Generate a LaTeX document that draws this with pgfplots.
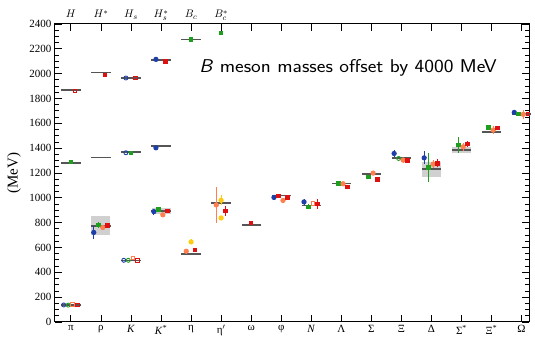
\documentclass[border=0pt]{standalone}
\usepackage{fontspec}
\setmainfont{Liberation Serif}
\usepackage{pgfplots}
\usepackage{pgfplotstable}
\pgfplotsset{compat=1.18}

\definecolor{cblue}{HTML}{1F3FA8}
\definecolor{cgreen}{HTML}{1E9E1E}
\definecolor{corange}{HTML}{FF7F4F}
\definecolor{cred}{HTML}{DD1111}
\definecolor{cyellow}{HTML}{FFCC11}
\definecolor{cexp}{HTML}{555555}
\definecolor{cbox}{HTML}{D0D0D0}

% experimental values (B mesons offset by 4000 MeV)
\pgfplotstableread{
x y
0 138
1 775
2 496
3 892
4 548
5 958
6 783
7 1019
8 939
9 1116
10 1193
11 1318
12 1232
13 1385
14 1533
15 1672
0 1279
1 1325
2 1367
3 1415
0 1869
1 2010
2 1968
3 2112
4 2275
}\expt

% resonance widths (grey boxes)
\pgfplotstableread{
x y e
1 774.5 75.5
3 895 27
12 1227 63
13 1382 24
}\boxes

\pgfplotstableread{
x y e
0.76 721 50
2.76 889 25
6.76 1003 20
7.76 967 27
10.76 1357 27
11.76 1322 52
14.76 1688 22
2.83 2115 0
2.83 1403 0
}\bluef
\pgfplotstableread{
x y
-0.24 137
1.76 497
1.83 1965
1.83 1363
}\blueo

\pgfplotstableread{
x y e
0.91 780 22
2.91 905 10
7.91 927 20
8.91 1113 15
9.91 1167 15
11.91 1245 120
12.91 1425 62
13.91 1567 20
14.91 1675 15
0 1288 8
2 1360 0
4 2274 0
5 2327 0
}\greenf
\pgfplotstableread{
x y
-0.09 136
1.91 497
10.91 1317
}\greeno

\pgfplotstableread{
x y e
1.06 761 15
3.06 863 15
3.84 570 10
4.84 943 145
7.06 979 12
9.06 1113 15
10.06 1199 15
11.06 1304 20
12.06 1271 32
13.06 1411 32
14.06 1546 35
15.06 1672 35
}\orangef
\pgfplotstableread{
x y
0.06 143
2.06 516
8.06 954
}\orangeo

\pgfplotstableread{
x y e
1.21 777 24
3.21 895 10
4.13 580 16
5.14 895 38
6 798 8
7.21 1003 8
8.21 949 40
9.21 1088 10
10.21 1150 10
11.21 1301 10
12.21 1277 32
13.21 1433 22
14.21 1562 10
1.13 1989 0
3.14 2096 0
6.91 1016 8
}\redf
\pgfplotstableread{
x y
0.21 136
2.21 497
15.21 1675
0.13 1860
2.14 1965
}\redo

\pgfplotstableread{
x y e
4 645 20
5 980 40
5 838 0
}\yellowf

\begin{document}
\begin{tikzpicture}
\begin{axis}[
  width=474pt, height=298pt, scale only axis,
  xmin=-0.53, xmax=15.25, ymin=0, ymax=2400,
  xtick={0,...,15},
  xticklabels={π,ρ,\textit{K},\textit{K}\textsuperscript{*},η,η$'$,ω,φ,\textit{N},Λ,Σ,Ξ,Δ,Σ\textsuperscript{*},Ξ\textsuperscript{*},Ω},
  ytick={0,200,...,2400}, minor y tick num=3,
  tick align=inside,
  major tick length=7pt, minor tick length=4pt,
  every tick/.style={black, line width=0.9pt},
  axis line style={line width=1pt},
  tick label style={font=\fontsize{11}{13}\selectfont},
  /pgf/number format/assume math mode=true,
  /pgf/number format/1000 sep={},
  clip=false,
  pt/.style={only marks, line width=1pt,
    error bars/y dir=both, error bars/y explicit, error bars/error mark=none,
    error bars/error bar style={line width=1pt}},
]
\coordinate (ll) at (rel axis cs:0,0);
\coordinate (ur) at (rel axis cs:1,1);

% grey boxes
\addplot[draw=none, mark=none, error bars/.cd, y dir=both, y explicit, error mark=none,
  error bar style={draw=cbox, line width=19pt}] table[x=x, y=y, y error=e] {\boxes};
% experimental lines
\addplot[draw=none, mark=none, error bars/.cd, x dir=both, x fixed=0.32, error mark=none,
  error bar style={draw=cexp, line width=1.8pt}] table[x=x, y=y] {\expt};

% lattice results
\addplot[pt, cblue, mark=*, mark size=2.1pt] table[x=x, y=y, y error=e] {\bluef};
\addplot[only marks, cblue, mark=o, mark size=2pt, mark options={fill=white, line width=0.9pt}] table[x=x, y=y] {\blueo};
\addplot[pt, cgreen, mark=square*, mark size=1.8pt] table[x=x, y=y, y error=e] {\greenf};
\addplot[only marks, cgreen, mark=o, mark size=2pt, mark options={fill=white, line width=0.9pt}] table[x=x, y=y] {\greeno};
\addplot[pt, corange, mark=*, mark size=2.1pt] table[x=x, y=y, y error=e] {\orangef};
\addplot[only marks, corange, mark=square, mark size=1.8pt, mark options={fill=white, line width=0.9pt}] table[x=x, y=y] {\orangeo};
\addplot[pt, cyellow, mark=*, mark size=2.1pt] table[x=x, y=y, y error=e] {\yellowf};
\addplot[pt, cred, mark=square*, mark size=1.8pt] table[x=x, y=y, y error=e] {\redf};
\addplot[only marks, cred, mark=square, mark size=1.8pt, mark options={fill=white, line width=0.9pt}] table[x=x, y=y] {\redo};

% top labels
\node[anchor=base, font=\fontsize{11}{13}\selectfont] at ([yshift=6pt]axis cs:0,2400) {$H$};
\node[anchor=base, font=\fontsize{11}{13}\selectfont] at ([yshift=6pt]axis cs:1,2400) {$H^*$};
\node[anchor=base, font=\fontsize{11}{13}\selectfont] at ([yshift=6pt]axis cs:2,2400) {$H_s$};
\node[anchor=base, font=\fontsize{11}{13}\selectfont] at ([yshift=6pt]axis cs:3,2400) {$H_s^*$};
\node[anchor=base, font=\fontsize{11}{13}\selectfont] at ([yshift=6pt]axis cs:4,2400) {$B_c$};
\node[anchor=base, font=\fontsize{11}{13}\selectfont] at ([yshift=6pt]axis cs:5,2400) {$B_c^*$};

\node[anchor=west, transform shape, xscale=1.115, inner sep=0pt, font=\sffamily\fontsize{18.5}{22}\selectfont] at (axis cs:4.27,2045) {\textit{B} meson masses offset by 4000 MeV};
\node[rotate=90, font=\fontsize{15}{18}\selectfont] at ([xshift=-41pt]rel axis cs:0,0.5) {(MeV)};
\end{axis}
\pgfresetboundingbox
\path ([shift={(-55pt,-16pt)}]ll) rectangle ([shift={(6pt,24pt)}]ur);
\end{tikzpicture}
\end{document}
